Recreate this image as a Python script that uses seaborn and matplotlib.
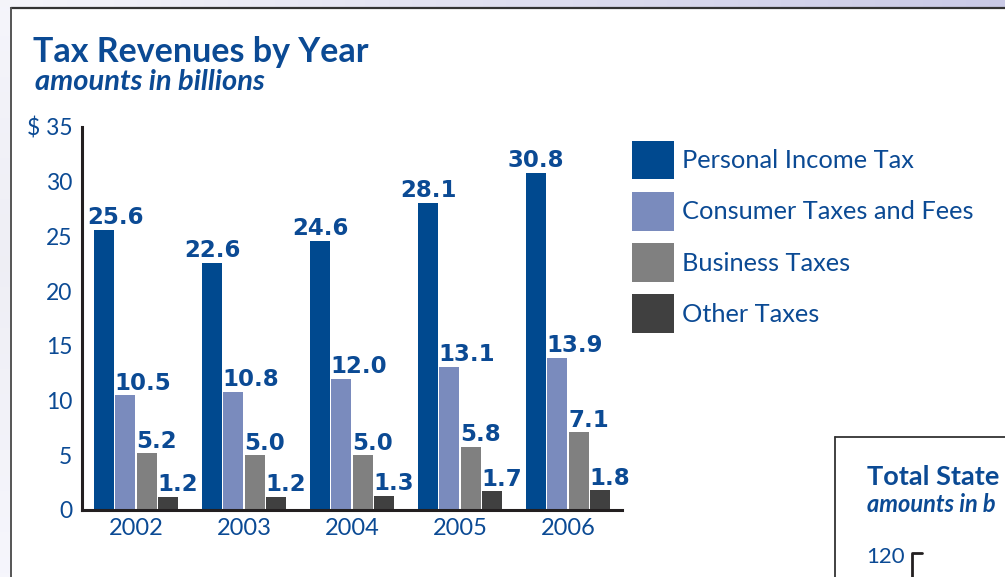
import matplotlib
matplotlib.use("Agg")
import matplotlib.pyplot as plt
from matplotlib.patches import Rectangle
import numpy as np
import pandas as pd
import seaborn as sns

# ---- data -------------------------------------------------------------
years = ["2002", "2003", "2004", "2005", "2006"]
categories = ["Personal Income Tax", "Consumer Taxes and Fees",
              "Business Taxes", "Other Taxes"]
personal_income = [25.6, 22.6, 24.6, 28.1, 30.8]
consumer_fees = [10.5, 10.8, 12.0, 13.1, 13.9]
business_taxes = [5.2, 5.0, 5.0, 5.8, 7.1]
other_taxes = [1.2, 1.2, 1.3, 1.7, 1.8]
y_ticks = [0, 5, 10, 15, 20, 25, 30, 35]
y_tick_labels = ["0", "5", "10", "15", "20", "25", "30", "$ 35"]

series = [personal_income, consumer_fees, business_taxes, other_taxes]
df = pd.DataFrame({
    "year": np.repeat([years], len(categories), axis=0).ravel(),
    "category": np.repeat(categories, len(years)),
    "value": np.concatenate(series),
})

# ---- style ------------------------------------------------------------
sns.set_theme(style="white")
plt.rcParams["font.family"] = ["Lato", "DejaVu Sans"]

BLUE_TEXT = "#0B4A94"
AXIS = "#231F20"
palette = ["#00498F", "#7A8BBD", "#808080", "#404040"]

W, H = 1005, 577
fig = plt.figure(figsize=(W / 100, H / 100), dpi=100)

def fx(px):
    return px / W

def fy(py):
    return 1 - py / H

# ---- page background outside the frame -----------------------------------
bg = fig.add_axes([0, 0, 1, 1], zorder=-10)
bg.set_axis_off()
bg.set_xlim(0, W)
bg.set_ylim(H, 0)
grad = np.linspace(0, 1, 256)[None, :]
bg.imshow(np.dstack([
    0.96 - 0.17 * grad, 0.96 - 0.17 * grad, 0.98 - 0.08 * grad
]), extent=(0, W, 7, 0), aspect="auto")
vgrad = np.linspace(0, 1, 256)[:, None]
shade = 0.935 + 0.03 * np.abs(vgrad - 0.45) / 0.55
bg.imshow(np.dstack([shade, shade, np.minimum(shade + 0.025, 1)]),
          extent=(0, 10, H, 7), aspect="auto")
bg.add_patch(Rectangle((10, 7), W - 10, H - 7, facecolor="white",
                       edgecolor="none"))
bg.plot([10.5, W], [7.5, 7.5], color="#333333", lw=1.6)
bg.plot([11, 11], [7.5, H], color="#555555", lw=1.4)

# second panel at lower right
bg.plot([835, 835], [437, H], color="#333333", lw=1.3)
bg.plot([835, W], [437, 437], color="#333333", lw=1.3)
bg.plot([912, 912, 922], [H, 553, 553], color=AXIS, lw=2.0)

# ---- main bar chart -------------------------------------------------------
ax = fig.add_axes([fx(82), fy(510), fx(540), (510 - 127) / H])
sns.barplot(data=df, x="year", y="value", hue="category",
            hue_order=categories, order=years, palette=palette,
            width=0.79, gap=0.06, saturation=1, ax=ax,
            edgecolor="none", linewidth=0)

ax.set_xlim(-0.5, len(years) - 0.5)
ax.set_ylim(0, 35)
ax.set_xlabel("")
ax.set_ylabel("")
for side in ("top", "right"):
    ax.spines[side].set_visible(False)
for side in ("left", "bottom"):
    ax.spines[side].set_color(AXIS)
    ax.spines[side].set_linewidth(2.2)

ax.set_yticks(y_ticks)
ax.set_yticklabels(y_tick_labels)
ax.tick_params(axis="y", direction="in", length=9.5, width=1.8,
               color=AXIS, pad=7, labelsize=16.5, labelcolor=BLUE_TEXT)
ax.set_xticks(range(len(years)))
ax.set_xticklabels(years)
ax.tick_params(axis="x", which="major", length=0, pad=6,
               labelsize=17, labelcolor=BLUE_TEXT)
ax.set_xticks(np.arange(len(years)) + 0.5, minor=True)
ax.tick_params(axis="x", which="minor", direction="in", length=6.5,
               width=1.6, color=AXIS)

leg = ax.get_legend()
handles = leg.legend_handles if leg is not None else None
if leg is not None:
    leg.remove()

# value labels above each bar
labels = []
for k, (container, values) in enumerate(zip(ax.containers, series)):
    for bar, v in zip(container.patches, values):
        if k == 0:
            xpos, ha = bar.get_x() + bar.get_width() / 2, "center"
        else:
            xpos, ha = bar.get_x() - 0.005, "left"
        t = ax.annotate(f"{v:.1f}", (xpos, v), xytext=(0, 4),
                        textcoords="offset points", ha=ha, va="baseline",
                        fontsize=16.5, fontweight="bold", color=BLUE_TEXT,
                        family=["DejaVu Sans"], annotation_clip=False)
        labels.append(t)

# keep labels clear of the value axis
fig.canvas.draw()
renderer = fig.canvas.get_renderer()
spine_x = ax.transAxes.transform((0, 0))[0]
for t in labels:
    bb = t.get_window_extent(renderer)
    if bb.x0 < spine_x + 5:
        shift = (spine_x + 5 - bb.x0) * 72 / fig.dpi
        t.xyann = (t.xyann[0] + shift, t.xyann[1])

# legend
leg_fs = 18.3
fig.legend(handles=handles, labels=categories, loc="upper left",
           bbox_to_anchor=(fx(632), fy(141)), frameon=False,
           fontsize=leg_fs, labelcolor=BLUE_TEXT, borderpad=0,
           borderaxespad=0, handlelength=1.65, handleheight=1.95,
           handletextpad=0.3, labelspacing=0.5)

# titles
fig.text(fx(33), fy(62), "Tax Revenues by Year", fontsize=24.5,
         fontweight="bold", color=BLUE_TEXT, va="baseline")
fig.text(fx(35), fy(90), "amounts in billions", fontsize=21,
         fontweight="bold", fontstyle="italic", color=BLUE_TEXT,
         va="baseline")
fig.text(fx(867), fy(485), "Total State", fontsize=19.5,
         fontweight="bold", color=BLUE_TEXT, va="baseline")
fig.text(fx(867), fy(512), "amounts in b", fontsize=17,
         fontweight="bold", fontstyle="italic", color=BLUE_TEXT,
         va="baseline")
fig.text(fx(905), fy(563), "120", fontsize=16, color=BLUE_TEXT,
         ha="right", va="baseline")

fig.savefig("out.png", dpi=100)
